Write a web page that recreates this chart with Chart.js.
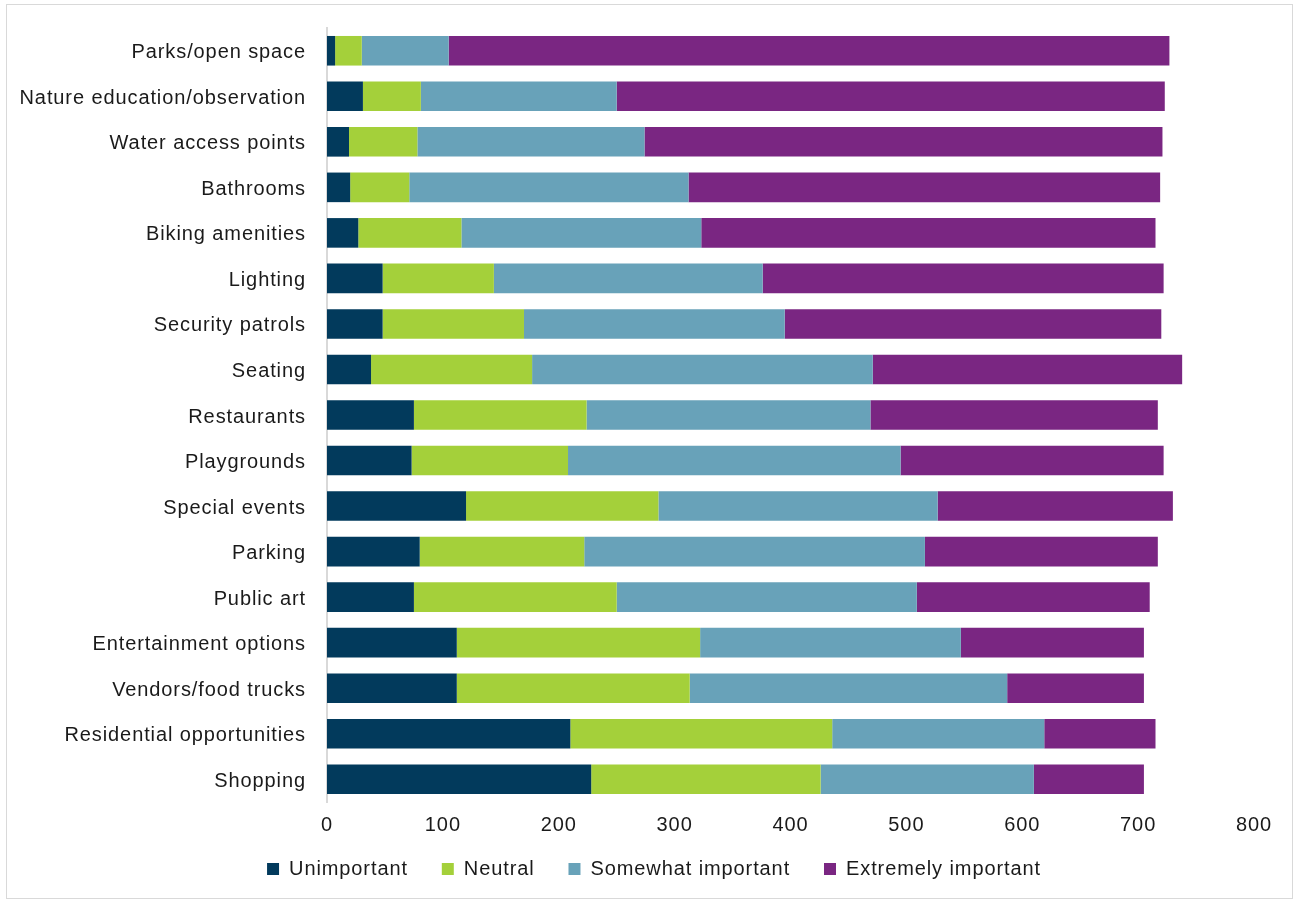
<!DOCTYPE html>
<html>
<head>
<meta charset="utf-8">
<script src="https://cdn.jsdelivr.net/npm/chart.js@4/dist/chart.umd.min.js"></script>
<style>
    html, body { margin: 0; padding: 0; background: #ffffff; }
    #wrap { position: relative; width: 1294px; height: 900px; }
    #frame {
        position: absolute; left: 6px; top: 4px; width: 1285px; height: 893px;
        border: 1px solid #d9d9d9; pointer-events: none;
    }
</style>
</head>
<body>
<div id="wrap">
    <canvas id="amenity-chart" width="1294" height="900"></canvas>
    <div id="frame"></div>
</div>
<script>
var categories = [
    'Parks/open space', 'Nature education/observation', 'Water access points', 'Bathrooms',
    'Biking amenities', 'Lighting', 'Security patrols', 'Seating', 'Restaurants',
    'Playgrounds', 'Special events', 'Parking', 'Public art', 'Entertainment options',
    'Vendors/food trucks', 'Residential opportunities', 'Shopping'
];

var unimportant = [7, 31, 19, 20, 27, 48, 48, 38, 75, 73, 120, 80, 75, 112, 112, 210, 228];
var neutral = [23, 50, 59, 51, 89, 96, 122, 139, 149, 135, 166, 142, 175, 210, 201, 226, 198];
var somewhatImportant = [75, 169, 196, 241, 207, 232, 225, 294, 245, 287, 241, 294, 259, 225, 274, 183, 184];
var extremelyImportant = [622, 473, 447, 407, 392, 346, 325, 267, 248, 227, 203, 201, 201, 158, 118, 96, 95];

var xTicks = [0, 100, 200, 300, 400, 500, 600, 700, 800];

var seriesNames = ['Unimportant', 'Neutral', 'Somewhat important', 'Extremely important'];
var seriesColors = ['#023a5c', '#a4d03a', '#68a2b9', '#7a2682'];
var seriesValues = [unimportant, neutral, somewhatImportant, extremelyImportant];

var datasets = [];
for (let i = 0; i < seriesNames.length; i++) {
    datasets.push({
        label: seriesNames[i],
        data: seriesValues[i],
        backgroundColor: seriesColors[i],
        borderWidth: 0,
        barPercentage: 0.65,
        categoryPercentage: 1.0
    });
}

// canvas resets its state when resized, so put the letter spacing back before measuring and drawing
let letterSpacingPlugin = {
    id: 'letterSpacing',
    beforeUpdate: function (chart) { chart.ctx.letterSpacing = '0.9px'; },
    beforeLayout: function (chart) { chart.ctx.letterSpacing = '0.9px'; },
    beforeDraw: function (chart) { chart.ctx.letterSpacing = '0.9px'; }
};

// nudge the legend row to the right so it sits under the plot area
let legendShiftPlugin = {
    id: 'legendShift',
    afterLayout: function (chart) {
        chart.legend.left += 27;
        chart.legend.right += 27;
    }
};

Chart.defaults.font.family = "'Liberation Sans', Arial, sans-serif";
Chart.defaults.font.size = 20;
Chart.defaults.color = '#1a1a1a';

let ctx = document.getElementById('amenity-chart').getContext('2d');

let chart = new Chart(ctx, {
    type: 'bar',
    data: {
        labels: categories,
        datasets: datasets
    },
    plugins: [letterSpacingPlugin, legendShiftPlugin],
    options: {
        indexAxis: 'y',
        responsive: false,
        animation: false,
        layout: {
            padding: { top: 28, right: 40, bottom: 11, left: 0 }
        },
        scales: {
            x: {
                stacked: true,
                min: 0,
                max: 800,
                grid: { display: false, drawTicks: false },
                border: { display: false },
                afterBuildTicks: function (scale) {
                    scale.ticks = xTicks.map(function (v) { return { value: v }; });
                },
                ticks: {
                    padding: 11,
                    color: '#1a1a1a'
                },
                afterFit: function (scale) {
                    scale.height = 36;
                }
            },
            y: {
                stacked: true,
                grid: { display: false, drawTicks: false },
                border: { display: true, color: '#d9d9d9', width: 2 },
                ticks: {
                    padding: 21,
                    labelOffset: 2,
                    color: '#1a1a1a',
                    autoSkip: false
                },
                afterFit: function (scale) {
                    // axis edge sits at x = 327
                    scale.width = 327;
                    scale.paddingTop = 0;
                    scale.paddingBottom = 0;
                }
            }
        },
        plugins: {
            legend: {
                position: 'bottom',
                labels: {
                    boxWidth: 12,
                    boxHeight: 12,
                    padding: 21,
                    color: '#1a1a1a',
                    generateLabels: function (chart) {
                        let items = Chart.defaults.plugins.legend.labels.generateLabels(chart);
                        // wider gap after each entry except the last
                        for (let i = 0; i < items.length - 1; i++) {
                            items[i].text = items[i].text + '  ';
                        }
                        return items;
                    }
                }
            },
            tooltip: { enabled: false }
        }
    }
});
</script>
</body>
</html>
